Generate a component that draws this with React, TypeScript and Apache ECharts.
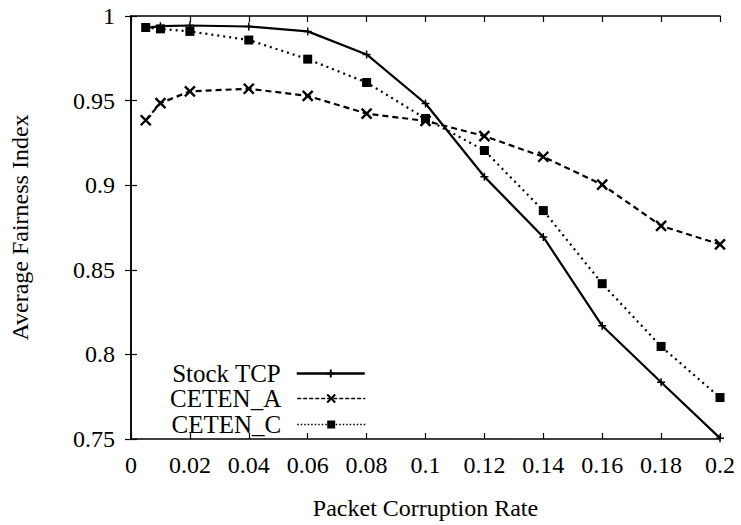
import React, { useEffect, useRef } from "react";
import * as echarts from "echarts";

const xValues = [0.005, 0.01, 0.02, 0.04, 0.06, 0.08, 0.1, 0.12, 0.14, 0.16, 0.18, 0.2];
const stockTcp = [0.993, 0.994, 0.9944, 0.9938, 0.9909, 0.9773, 0.9483, 0.905, 0.8694, 0.8169, 0.7835, 0.7505];
const cetenA = [0.9384, 0.9485, 0.9555, 0.957, 0.9528, 0.9423, 0.938, 0.929, 0.9168, 0.9003, 0.876, 0.865];
const cetenC = [0.9932, 0.9924, 0.9909, 0.9858, 0.9745, 0.9607, 0.9394, 0.9205, 0.885, 0.8418, 0.8047, 0.7745];
const seriesNames = ["Stock TCP", "CETEN_A", "CETEN_C"];

const FONT = "'Liberation Serif', 'Times New Roman', serif";
const FS_TICK = 24;
const FS_NAME = 24;
const FS_LEGEND = 25;

const plusSym = "path://M0,5L10,5M5,0L5,10";
const crossSym = "path://M0,0L10,10M10,0L0,10";

function fmt(v: number): string {
  return String(parseFloat(v.toFixed(3)));
}

export default function App() {
  const ref = useRef<HTMLDivElement>(null);
  useEffect(() => {
    if (!ref.current) return;
    const chart = echarts.init(ref.current, undefined, { renderer: "svg" });
    const pair = (ys: number[]) => xValues.map((x, i) => [x, ys[i]]);
    const axisLine = { show: true, lineStyle: { color: "#000", width: 1.5 } };
    const tick = { show: true, inside: true, length: 6, lineStyle: { color: "#000", width: 1.2 } };
    const legendBase = {
      orient: "vertical" as const,
      right: 375,
      align: "right" as const,
      padding: 0,
      itemWidth: 68,
      itemHeight: 10,
      textStyle: {
        fontFamily: FONT,
        fontSize: FS_LEGEND,
        color: "#000",
        lineHeight: 24,
        padding: [0, 11, 0, 0],
      },
    };
    chart.setOption({
      animation: false,
      backgroundColor: "#fff",
      grid: { left: 129, right: 21, top: 16, bottom: 80, containLabel: false },
      xAxis: [
        {
          type: "value",
          min: 0,
          max: 0.2,
          interval: 0.02,
          name: "Packet Corruption Rate",
          nameLocation: "middle",
          nameGap: 57,
          nameTextStyle: { fontFamily: FONT, fontSize: FS_NAME, color: "#000" },
          axisLine,
          axisTick: tick,
          splitLine: { show: false },
          axisLabel: { fontFamily: FONT, fontSize: FS_TICK, color: "#000", margin: 14, formatter: fmt },
        },
        {
          type: "value",
          position: "top",
          min: 0,
          max: 0.2,
          interval: 0.02,
          axisLine,
          axisTick: tick,
          splitLine: { show: false },
          axisLabel: { show: false },
        },
      ],
      yAxis: [
        {
          type: "value",
          min: 0.75,
          max: 1,
          interval: 0.05,
          name: "Average Fairness Index",
          nameLocation: "middle",
          nameGap: 99,
          nameTextStyle: { fontFamily: FONT, fontSize: FS_NAME, color: "#000" },
          axisLine,
          axisTick: tick,
          splitLine: { show: false },
          axisLabel: { fontFamily: FONT, fontSize: FS_TICK, color: "#000", margin: 16, formatter: fmt },
        },
        {
          type: "value",
          position: "right",
          min: 0.75,
          max: 1,
          interval: 0.05,
          axisLine,
          axisTick: tick,
          splitLine: { show: false },
          axisLabel: { show: false },
        },
      ],
      legend: [
        { ...legendBase, top: 361, data: [seriesNames[0]], lineStyle: { width: 2.5, type: "solid" } },
        { ...legendBase, top: 386, data: [seriesNames[1]], lineStyle: { width: 1.6, type: [4, 2] } },
        { ...legendBase, top: 412, data: [seriesNames[2]], lineStyle: { width: 1.6, type: [1.5, 2] } },
      ],
      series: [
        {
          name: seriesNames[0],
          type: "line",
          data: pair(stockTcp),
          symbol: plusSym,
          symbolSize: 8,
          lineStyle: { color: "#000", width: 2.2, type: "solid" },
          itemStyle: { color: "#000", borderColor: "#000", borderWidth: 1.5 },
          z: 3,
        },
        {
          name: seriesNames[1],
          type: "line",
          data: pair(cetenA),
          symbol: crossSym,
          symbolSize: 10,
          lineStyle: { color: "#000", width: 2.2, type: [6, 4] },
          itemStyle: { color: "#000", borderColor: "#000", borderWidth: 2.4 },
          z: 2,
        },
        {
          name: seriesNames[2],
          type: "line",
          data: pair(cetenC),
          symbol: "rect",
          symbolSize: 9,
          lineStyle: { color: "#000", width: 2.2, type: [2, 4] },
          itemStyle: { color: "#000" },
          z: 2,
        },
      ],
    });
    return () => chart.dispose();
  }, []);
  return <div ref={ref} style={{ width: 741, height: 525, position: "absolute", left: 0, top: 0 }} />;
}
